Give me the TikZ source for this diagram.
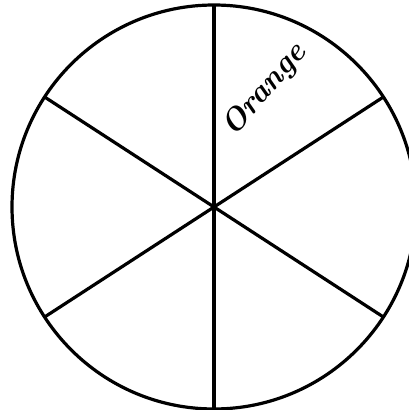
\documentclass[tikz,border=0pt]{standalone}
\usepackage{tikz}
\usetikzlibrary{positioning,calc}
\tikzset{
  rim/.style={draw=black,line width=3.2pt},
  spoke/.style={draw=black,line width=3.2pt},
  lbl/.style={font=\fontsize{31}{33}\selectfont\bfseries\itshape,rotate=49,inner sep=0pt},
}
\begin{document}
\begin{tikzpicture}[x=1pt,y=1pt]
  \useasboundingbox (0,0) rectangle (409,410);
  \clip (0,0) rectangle (409,410);
  \coordinate (c) at (214,203);
  \draw[rim] (c) circle[radius=202pt];
  % slices
  \foreach \a in {90,270,33,147,213,327}
    \draw[spoke] (c) -- ($(c)+(\a:202pt)$);
  \node[lbl] (name) at (265,320) {Orange};
\end{tikzpicture}
\end{document}
